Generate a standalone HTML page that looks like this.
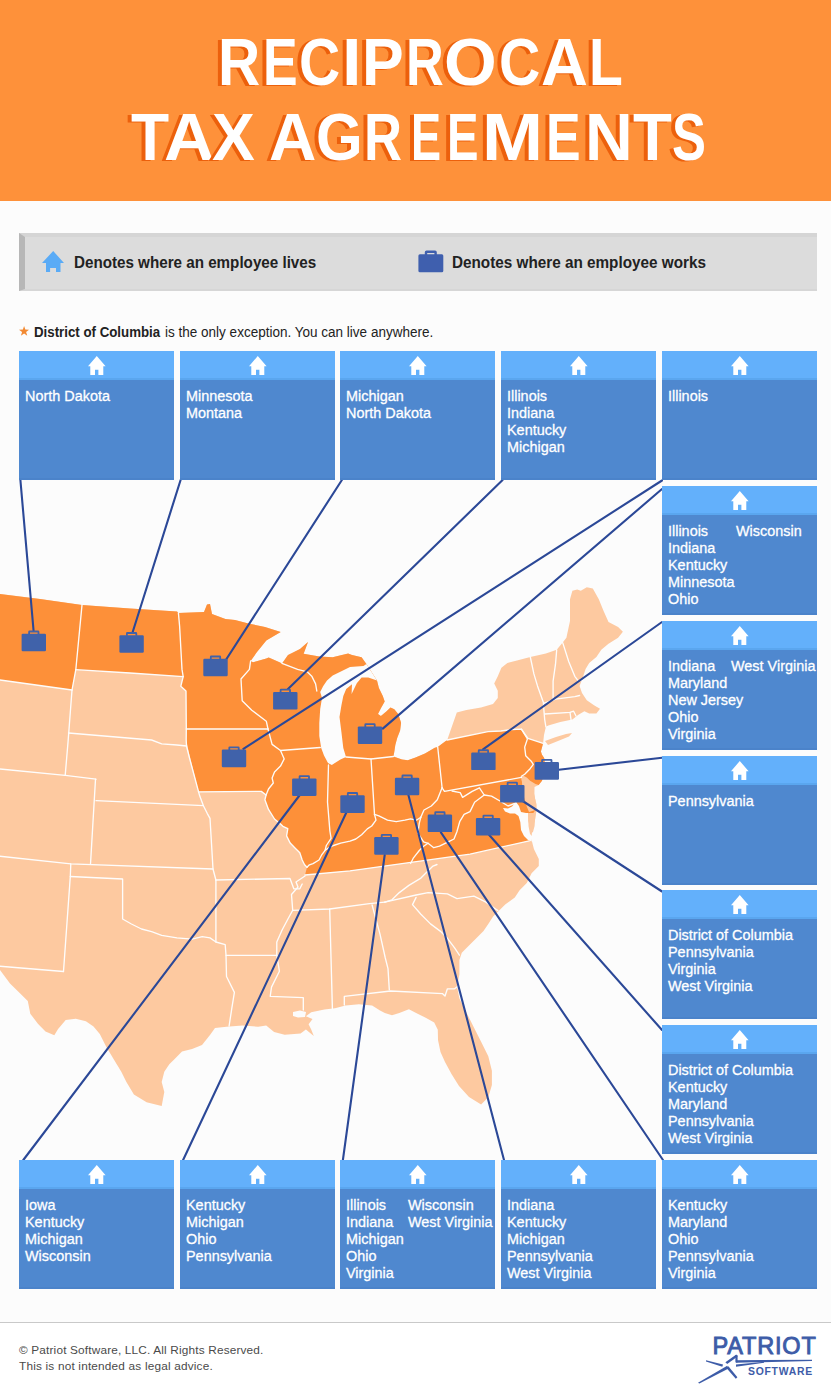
<!DOCTYPE html>
<html><head><meta charset="utf-8"><title>Reciprocal Tax Agreements</title>
<style>
*{margin:0;padding:0;box-sizing:border-box}
html,body{width:831px;height:1397px;overflow:hidden;background:#fcfcfc;font-family:"Liberation Sans",sans-serif;position:relative}
.hdr{position:absolute;left:0;top:0;width:831px;height:201px;background:#fe913a}
.title{position:absolute;color:#fff;font-weight:bold;font-size:67px;line-height:67px;white-space:nowrap;transform-origin:0 0}
.legend{position:absolute;left:19px;top:233px;width:798px;height:58px;background:#dcdcdc;border-left:6px solid #b7b7b7;border-top:4px solid #d5d5d5;border-bottom:2px solid #d6d6d6}
.box{position:absolute;width:155px;height:129px;background:#4f88cf}
.bh{position:absolute;left:0;top:0;width:155px;height:29px;background:#63b0fb;border-bottom:2px solid #5aa6ef}
.bb{position:absolute;left:0;bottom:0;width:155px;height:2px;background:#4b83ca}
.col{position:absolute;color:#fff;font-size:15.5px;line-height:17px;white-space:nowrap;transform:scaleX(0.93);transform-origin:0 0;-webkit-text-stroke:0.3px #fff}
.map{position:absolute;left:0;top:0}
.sep{position:absolute;left:0;top:1322px;width:831px;height:1px;background:#c9c9c9}
</style></head><body>
<div class="hdr"></div>
<div class="title" style="left:218.19px;top:27.78px;transform:scaleX(0.8723);text-shadow:-4.59px 1px 0 #ec600c">R</div><div class="title" style="left:263.33px;top:27.78px;transform:scaleX(0.7742);text-shadow:-5.17px 1px 0 #ec600c">E</div><div class="title" style="left:299.16px;top:27.78px;transform:scaleX(0.8515);text-shadow:-4.70px 1px 0 #ec600c">C</div><div class="title" style="left:341.71px;top:27.78px;transform:scaleX(1.0465);text-shadow:-3.82px 1px 0 #ec600c">I</div><div class="title" style="left:362.42px;top:27.78px;transform:scaleX(0.9336);text-shadow:-4.28px 1px 0 #ec600c">P</div><div class="title" style="left:406.20px;top:27.78px;transform:scaleX(0.7806);text-shadow:-5.12px 1px 0 #ec600c">R</div><div class="title" style="left:444.22px;top:27.78px;transform:scaleX(1.0117);text-shadow:-3.95px 1px 0 #ec600c">O</div><div class="title" style="left:499.15px;top:27.78px;transform:scaleX(0.8538);text-shadow:-4.69px 1px 0 #ec600c">C</div><div class="title" style="left:541.28px;top:27.78px;transform:scaleX(0.9700);text-shadow:-4.12px 1px 0 #ec600c">A</div><div class="title" style="left:588.80px;top:27.78px;transform:scaleX(0.8260);text-shadow:-4.84px 1px 0 #ec600c">L</div><div class="title" style="left:130.60px;top:103.48px;transform:scaleX(0.9302);text-shadow:-4.30px 1px 0 #ec600c">T</div><div class="title" style="left:163.66px;top:103.48px;transform:scaleX(1.0412);text-shadow:-3.84px 1px 0 #ec600c">A</div><div class="title" style="left:211.64px;top:103.48px;transform:scaleX(0.9584);text-shadow:-4.17px 1px 0 #ec600c">X</div><div class="title" style="left:269.27px;top:103.48px;transform:scaleX(0.9789);text-shadow:-4.09px 1px 0 #ec600c">A</div><div class="title" style="left:316.04px;top:103.48px;transform:scaleX(0.8958);text-shadow:-4.47px 1px 0 #ec600c">G</div><div class="title" style="left:364.08px;top:103.48px;transform:scaleX(0.7853);text-shadow:-5.09px 1px 0 #ec600c">R</div><div class="title" style="left:410.58px;top:103.48px;transform:scaleX(0.6731);text-shadow:-5.94px 1px 0 #ec600c">E</div><div class="title" style="left:447.14px;top:103.48px;transform:scaleX(0.7050);text-shadow:-5.67px 1px 0 #ec600c">E</div><div class="title" style="left:482.00px;top:103.48px;transform:scaleX(1.0929);text-shadow:-3.66px 1px 0 #ec600c">M</div><div class="title" style="left:545.73px;top:103.48px;transform:scaleX(0.7742);text-shadow:-5.17px 1px 0 #ec600c">E</div><div class="title" style="left:584.89px;top:103.48px;transform:scaleX(0.9851);text-shadow:-4.06px 1px 0 #ec600c">N</div><div class="title" style="left:632.89px;top:103.48px;transform:scaleX(0.9479);text-shadow:-4.22px 1px 0 #ec600c">T</div><div class="title" style="left:672.23px;top:103.48px;transform:scaleX(0.7598);text-shadow:-5.26px 1px 0 #ec600c">S</div>
<div class="legend"></div>
<svg style="position:absolute;left:42px;top:251px" width="22" height="21" viewBox="0 0 22 21"><path d="M11.2 0 L22 12 L18.5 12 L18.5 21 L14 21 L14 17 L8.1 17 L8.1 21 L4 21 L4 12 L0 12 Z" fill="#5aabf6"/></svg>
<svg style="position:absolute;left:418px;top:249.5px" width="26" height="23" viewBox="0 0 26 23"><rect x="0.4" y="4.3" width="24.9" height="17.9" rx="1.5" fill="#3f5fae"/><path d="M6.8 5 V2.2 Q6.8 0.4 8.6 0.4 H17 Q18.8 0.4 18.8 2.2 V5 H16.4 V2.9 H9.2 V5 Z" fill="#3f5fae"/></svg>
<div style="position:absolute;left:74.2px;top:252.97px;font-size:16.2px;line-height:19.44px;font-weight:bold;color:#222;white-space:nowrap;transform:scaleX(0.938);transform-origin:0 0;">Denotes where an employee lives</div><div style="position:absolute;left:451.8px;top:252.97px;font-size:16.2px;line-height:19.44px;font-weight:bold;color:#222;white-space:nowrap;transform:scaleX(0.944);transform-origin:0 0;">Denotes where an employee works</div>
<svg style="position:absolute;left:18.5px;top:326.4px" width="10.2" height="9.8" viewBox="0 0 10 9.6"><path d="M5 0 L6.2 3.5 L10 3.6 L7 5.9 L8.1 9.6 L5 7.4 L1.9 9.6 L3 5.9 L0 3.6 L3.8 3.5 Z" fill="#f28a33"/></svg>
<div style="position:absolute;left:33.6px;top:323.31px;font-size:15.2px;line-height:18.24px;font-weight:bold;color:#222;white-space:nowrap;transform:scaleX(0.874);transform-origin:0 0;">District of Columbia</div><div style="position:absolute;left:164.5px;top:323.31px;font-size:15.2px;line-height:18.24px;font-weight:normal;color:#222;white-space:nowrap;transform:scaleX(0.89);transform-origin:0 0;"> is the only exception. You can live anywhere.</div>
<svg class="map" width="831" height="1397" viewBox="0 0 831 1397">
<polygon points="0.0,594.0 40.0,599.0 82.0,605.0 130.0,608.5 177.0,611.6 178.4,612.9 204.0,612.0 207.0,604.4 210.0,604.0 212.0,614.0 225.4,618.9 235.0,620.0 249.4,623.7 265.0,627.0 280.7,632.0 266.3,640.5 256.6,652.6 250.6,661.0 253.0,662.2 266.3,658.6 268.7,657.4 279.5,662.2 282.0,663.4 288.0,655.0 300.0,649.0 308.0,642.0 303.6,653.8 319.3,656.4 332.7,657.3 348.1,653.5 352.0,655.0 361.6,657.3 366.4,664.0 377.0,680.4 378.9,688.0 382.8,696.0 384.7,701.6 380.9,708.3 378.0,714.0 380.9,716.0 386.6,711.2 390.5,707.4 394.3,709.3 398.2,714.0 401.1,722.8 400.1,730.5 397.2,738.0 395.3,745.0 394.3,751.7 393.4,756.5 402.0,759.4 407.8,760.3 415.5,757.4 425.0,753.6 434.8,747.8 437.7,747.0 444.4,742.0 447.2,740.0 456.8,712.4 466.5,710.0 481.0,707.6 493.0,704.0 497.8,698.0 497.8,690.7 494.2,683.5 497.8,676.3 501.4,667.8 507.4,663.0 517.0,660.6 530.3,657.0 545.9,653.4 556.7,649.8 562.7,642.6 566.4,637.8 570.0,620.9 570.0,599.3 572.4,590.8 577.2,589.6 580.8,590.8 586.8,587.2 592.8,588.4 598.8,599.3 603.7,611.3 608.5,622.1 618.1,626.9 622.9,631.7 618.1,637.8 608.5,643.8 601.3,649.8 596.4,657.0 589.2,663.0 585.6,669.0 583.2,676.3 579.6,685.9 582.0,693.1 586.8,700.3 594.0,705.2 600.0,708.8 596.4,713.6 589.2,713.6 584.4,711.2 578.4,714.8 572.4,719.6 560.3,722.0 548.3,725.6 545.9,726.8 544.0,735.0 543.1,743.3 540.9,751.4 542.0,754.7 544.2,757.9 545.0,765.0 544.0,773.0 542.0,780.7 538.7,785.0 534.5,787.0 534.4,795.8 536.6,804.5 536.6,809.9 535.0,820.0 532.0,830.0 531.6,840.0 534.0,849.3 538.8,858.9 538.8,866.1 531.6,873.3 526.8,883.0 519.6,890.2 514.8,897.4 505.2,904.6 497.9,911.8 493.1,916.6 488.3,923.9 483.5,931.1 476.3,938.3 469.0,945.5 461.8,952.7 459.4,960.0 459.4,974.4 457.0,986.4 459.4,998.5 466.6,1012.9 473.9,1027.4 481.1,1041.8 488.3,1056.2 491.9,1070.7 491.9,1085.1 488.3,1097.2 481.1,1104.4 469.0,1097.0 459.0,1086.0 451.5,1074.0 445.0,1062.0 440.5,1052.0 438.0,1040.0 437.8,1029.8 434.2,1022.5 425.7,1017.7 416.1,1012.9 408.9,1009.3 399.3,1012.9 392.0,1015.3 384.8,1012.9 380.0,1010.5 372.1,1005.6 358.9,1004.3 345.6,1005.6 335.0,1008.3 324.4,1009.6 311.2,1012.2 305.9,1016.2 312.5,1018.9 308.6,1024.2 311.2,1029.4 313.8,1036.1 305.9,1029.4 300.6,1033.4 284.7,1034.7 274.1,1032.1 266.2,1025.5 258.2,1026.8 242.4,1025.5 226.5,1026.8 215.0,1028.0 210.0,1035.0 202.0,1045.0 192.1,1049.1 182.0,1051.6 174.4,1059.2 169.3,1064.3 164.3,1071.8 161.7,1082.0 164.3,1092.0 161.7,1106.0 146.6,1102.2 133.9,1094.6 126.4,1082.0 121.3,1071.8 113.7,1059.2 106.1,1046.6 99.8,1033.9 93.5,1026.4 85.9,1021.3 75.8,1018.8 65.7,1020.0 58.1,1028.9 54.3,1035.2 45.5,1031.4 37.9,1023.8 30.3,1013.7 27.8,1001.0 20.2,993.5 10.0,983.4 0.0,970.0" fill="#fdc9a0"/>
<polygon points="0.0,594.0 40.0,599.0 82.0,605.0 130.0,608.5 177.0,611.6 178.4,612.9 204.0,612.0 207.0,604.4 210.0,604.0 212.0,614.0 225.4,618.9 235.0,620.0 249.4,623.7 265.0,627.0 280.7,632.0 266.3,640.5 256.6,652.6 250.6,661.0 253.0,662.2 266.3,658.6 268.7,657.4 279.5,662.2 282.0,663.4 288.0,655.0 300.0,649.0 308.0,642.0 303.6,653.8 319.3,656.4 332.7,657.3 348.1,653.5 352.0,655.0 361.6,657.3 366.4,664.0 377.0,680.4 378.9,688.0 382.8,696.0 384.7,701.6 380.9,708.3 378.0,714.0 380.9,716.0 386.6,711.2 390.5,707.4 394.3,709.3 398.2,714.0 401.1,722.8 400.1,730.5 397.2,738.0 395.3,745.0 394.3,751.7 393.4,756.5 402.0,759.4 407.8,760.3 415.5,757.4 425.0,753.6 434.8,747.8 437.7,747.0 444.4,742.0 447.2,740.0 488.0,731.6 501.0,731.0 512.0,729.5 521.4,729.2 527.9,738.4 543.1,743.3 540.9,751.4 542.0,754.7 544.2,757.9 545.0,765.0 544.0,773.0 542.0,780.7 538.7,785.0 535.5,783.9 530.1,780.7 526.8,777.4 522.5,775.2 521.4,778.0 522.5,785.0 523.6,795.8 526.8,806.6 529.0,812.1 535.5,810.0 531.0,816.0 527.0,826.0 528.0,835.0 531.6,840.0 529.2,840.8 470.0,854.2 350.0,870.8 305.0,875.0 307.0,867.2 304.6,864.8 302.2,860.0 299.8,852.7 295.0,847.9 290.2,843.1 286.6,835.9 287.8,828.7 282.9,826.3 280.5,823.9 274.5,819.0 268.5,809.4 264.9,799.8 266.1,795.0 261.3,791.4 198.4,791.8 194.6,775.4 189.5,755.2 186.2,740.0 186.3,729.0 186.0,691.0 180.8,686.3 183.2,676.6 130.0,673.0 75.8,669.7 72.0,690.0 0.0,680.0" fill="#fd9039"/>
<polygon points="521.4,778.0 526.0,780.0 531.0,787.0 534.5,795.0 535.5,801.5 527.0,802.0 524.0,795.0 522.5,785.0" fill="#fdc9a0"/>
<polygon points="528.0,813.0 535.5,813.0 535.0,820.0 534.6,826.0 533.0,832.0 530.0,834.0 528.5,826.0" fill="#fdc9a0"/>
<polygon points="545.0,741.0 556.0,737.0 566.0,734.0 572.0,733.0 569.0,736.5 558.0,741.0 548.0,745.0" fill="#fdc9a0"/>
<g fill="none" stroke="#fff" stroke-width="1.35" stroke-linejoin="round" stroke-linecap="round" opacity="0.97">
<polyline points="0.0,680.0 72.0,690.0"/>
<polyline points="82.0,605.0 75.8,669.7 72.0,690.0"/>
<polyline points="75.8,669.7 130.0,673.0 183.2,676.6"/>
<polyline points="178.4,612.9 179.6,626.0 182.0,669.4 183.2,676.6 180.8,686.3 186.0,691.0 186.3,729.0 186.2,740.0 186.5,746.0"/>
<polyline points="72.0,690.0 68.2,740.0 65.2,775.4"/>
<polyline points="0.0,769.0 65.2,775.4 96.0,779.2"/>
<polyline points="68.5,733.0 151.6,740.0 161.7,743.8 176.9,745.0 186.5,746.0"/>
<polyline points="186.5,746.0 189.5,758.0 194.6,777.0 199.6,795.6 203.4,805.7 207.2,813.3 210.0,818.3 213.0,869.0 215.9,880.0"/>
<polyline points="95.5,779.2 90.5,864.0"/>
<polyline points="96.0,800.7 203.4,805.7"/>
<polyline points="0.0,856.2 70.8,863.8 213.0,869.0"/>
<polyline points="70.8,863.8 70.3,876.5 63.5,971.5"/>
<polyline points="70.3,876.5 122.6,879.0 122.6,919.0 131.4,924.0 141.5,929.0 151.6,931.6 161.7,935.4 176.9,937.9 192.1,939.2 202.2,936.6 210.0,937.9 215.9,942.0"/>
<polyline points="0.0,966.2 63.5,971.5"/>
<polyline points="215.9,880.0 215.9,942.0 225.2,944.7 226.0,955.0 226.5,976.5 234.4,992.4 231.8,1008.3 229.1,1026.0"/>
<polyline points="226.0,955.3 276.8,955.3"/>
<polyline points="215.9,880.0 290.0,878.5 293.8,888.8 299.8,888.8 302.2,884.0"/>
<polyline points="305.0,876.0 296.0,882.0 298.0,887.0 291.5,894.5 292.7,910.3 287.4,920.0 282.1,930.0 276.8,942.1 276.8,955.3 279.4,971.2 271.5,987.1 270.2,996.4 303.3,997.7 303.3,1010.0"/>
<polyline points="292.7,910.3 329.7,909.0 369.4,903.7 384.8,902.2"/>
<polyline points="329.7,909.0 332.4,1009.0"/>
<polyline points="372.1,905.0 380.0,934.1 385.3,958.0 388.0,968.6 389.3,989.7"/>
<polyline points="344.3,1005.0 344.3,996.4 390.6,991.0 442.6,993.7 445.0,996.1 447.4,988.8 454.6,988.8 457.5,986.4"/>
<polyline points="384.8,902.2 392.0,899.8 399.3,892.6 408.9,885.4 420.9,878.1 433.0,866.1 437.0,864.5"/>
<polyline points="384.8,902.2 416.1,895.0 428.1,892.6 447.4,893.8 457.0,898.6 473.9,896.2 485.9,902.2 497.9,910.6"/>
<polyline points="416.1,897.4 412.5,904.6 420.9,914.2 430.5,923.9 440.2,931.1 447.4,938.3 454.6,947.9 459.4,955.2"/>
<polyline points="305.0,875.0 350.0,870.8 470.0,854.2 529.2,840.8"/>
<polyline points="198.4,791.8 261.3,791.4 266.1,795.0"/>
<polyline points="186.3,729.0 268.0,729.0"/>
<polyline points="250.6,661.0 249.4,669.4 241.0,679.0 242.2,700.7 251.8,710.3 266.3,721.2 268.0,729.0"/>
<polyline points="268.0,729.0 272.1,744.4 280.5,750.5 284.2,758.9 280.5,766.1 274.5,772.1 272.1,778.1 273.3,783.0 268.5,789.0 266.1,795.0 264.9,799.8 268.5,809.4 274.5,819.0 280.5,823.9 282.9,826.3 287.8,828.7 286.6,835.9 290.2,843.1 295.0,847.9 299.8,852.7 302.2,860.0 304.6,864.8 307.0,867.2"/>
<polyline points="280.5,750.5 320.3,747.5"/>
<polyline points="282.0,663.4 297.6,669.4 307.2,671.8 312.0,676.6 315.6,683.9 316.8,691.0"/>
<polyline points="328.5,765.0 327.5,802.0 329.9,831.0 331.1,838.3 326.3,845.5 325.1,850.3 321.5,855.2 319.0,860.0 313.0,863.6 309.4,864.8 307.0,867.2"/>
<polyline points="325.1,850.3 328.7,847.9 333.5,845.5 340.7,843.1 350.0,841.2 355.8,839.0 361.6,834.7 367.3,828.9 371.7,826.0 376.0,820.2 374.5,814.4"/>
<polyline points="346.0,757.0 371.0,759.0 393.4,756.5"/>
<polyline points="371.0,759.0 374.5,814.4"/>
<polyline points="374.5,814.4 378.9,815.9 387.5,820.2 396.2,821.7 404.9,820.2 410.6,818.8 416.4,820.2 420.8,817.3"/>
<polyline points="442.1,787.8 437.3,799.8 431.3,806.0 424.0,810.0 420.8,817.3"/>
<polyline points="437.7,747.0 442.1,787.8"/>
<polyline points="442.1,787.8 444.5,791.4 521.4,777.4"/>
<polyline points="420.8,817.3 419.3,823.1 417.9,833.2 423.6,841.9 428.0,843.3"/>
<polyline points="428.0,843.3 423.6,846.2 419.3,850.5 413.5,857.8 410.6,863.5"/>
<polyline points="428.0,843.3 433.8,847.7 439.5,846.2 448.2,841.9 454.0,839.0 456.9,831.8 459.7,821.7 464.1,814.4 470.0,811.6 474.6,802.2 484.2,795.0 479.4,787.8 472.2,791.4 462.6,797.4 460.2,792.6 452.0,791.0"/>
<polyline points="484.2,795.0 491.5,796.2 500.0,801.0 508.0,806.0 516.0,803.0"/>
<polyline points="521.4,729.2 527.4,739.0 524.7,747.1 525.7,755.7 531.2,761.2 533.3,764.4 530.1,768.7 524.7,774.2 521.4,776.3"/>
<polyline points="447.2,740.0 488.0,731.6 501.0,731.0 512.0,729.5 521.4,729.2 527.9,738.4 543.1,743.3"/>
<polyline points="530.3,657.0 533.9,673.9 537.5,685.9 543.5,702.7 543.5,705.2 544.7,719.6 545.9,726.8"/>
<polyline points="556.7,649.8 555.5,664.2 553.1,681.1 553.1,700.3"/>
<polyline points="562.7,642.6 568.8,661.8 574.8,676.3 578.4,681.1 583.0,680.0"/>
<polyline points="543.5,703.5 555.5,699.1 574.8,696.7 579.6,695.5"/>
<polyline points="544.7,714.0 570.0,712.4 573.6,711.2 576.0,716.0"/>
<polyline points="570.0,712.4 571.2,721.0"/>
</g>
<polygon points="366.4,664.0 363.5,666.0 350.0,667.0 342.4,670.8 332.7,675.6 327.0,680.4 323.1,686.2 320.2,692.0 322.0,698.0 320.2,709.0 319.3,723.0 319.3,736.0 321.2,748.0 324.0,755.5 328.0,763.0 331.8,765.0 340.4,759.4 346.0,757.0 343.3,748.0 341.4,732.0 339.5,717.0 341.4,705.5 343.3,696.0 346.2,689.0 352.0,684.3 351.6,694.0 356.8,683.3 361.6,677.5 368.3,677.5 377.0,680.4" fill="#fcfcfc"/>
<polygon points="516.0,802.0 519.0,806.0 521.0,812.0 526.0,813.0 528.0,813.0 528.5,826.0 530.0,834.0 532.5,836.5 531.5,841.6 528.0,840.0 524.0,836.0 521.0,830.0 520.3,822.0 518.5,816.0 515.0,813.5 510.0,813.5 505.0,811.5 503.0,808.0 508.0,808.5 512.0,806.5" fill="#fcfcfc"/>
<polygon points="293.0,1012.0 300.0,1010.5 306.0,1012.0 305.0,1017.0 298.0,1017.5 293.0,1016.0" fill="#fcfcfc"/>
<g stroke="#2b4897" stroke-width="2.1" stroke-linecap="round">
<line x1="20.4" y1="480" x2="33.6" y2="631"/>
<line x1="180.6" y1="480" x2="132.7" y2="632"/>
<line x1="341.9" y1="480" x2="226" y2="659.8"/>
<line x1="502.6" y1="480" x2="288" y2="689"/>
<line x1="662" y1="480.5" x2="243.4" y2="748.8"/>
<line x1="662" y1="489" x2="382.8" y2="728.6"/>
<line x1="662" y1="622" x2="483" y2="749.3"/>
<line x1="662" y1="757.7" x2="558.8" y2="769.7"/>
<line x1="662" y1="891.5" x2="522.7" y2="801"/>
<line x1="662" y1="1030" x2="489" y2="834.7"/>
<line x1="23.3" y1="1160" x2="299.8" y2="795"/>
<line x1="183.1" y1="1160" x2="346.7" y2="811.8"/>
<line x1="342.9" y1="1160" x2="384.7" y2="855"/>
<line x1="504" y1="1160" x2="408.4" y2="795"/>
<line x1="663" y1="1160" x2="440.9" y2="832.3"/>
</g>
<rect x="21.6" y="633.7" width="24.4" height="17.6" rx="1.2" fill="#4062aa"/><path d="M28.2 634.3 V631.9 Q28.2 630.5 29.6 630.5 H38.0 Q39.4 630.5 39.4 631.9 V634.3 H37.6 V632.4 H30.0 V634.3 Z" fill="#4062aa"/>
<rect x="119.4" y="635.2" width="24.4" height="17.6" rx="1.2" fill="#4062aa"/><path d="M126.0 635.8 V633.4 Q126.0 632.0 127.4 632.0 H135.8 Q137.2 632.0 137.2 633.4 V635.8 H135.4 V633.9 H127.8 V635.8 Z" fill="#4062aa"/>
<rect x="203.3" y="658.7" width="24.4" height="17.6" rx="1.2" fill="#4062aa"/><path d="M209.9 659.3 V656.9 Q209.9 655.5 211.3 655.5 H219.7 Q221.1 655.5 221.1 656.9 V659.3 H219.3 V657.4 H211.7 V659.3 Z" fill="#4062aa"/>
<rect x="273.1" y="691.9" width="24.4" height="17.6" rx="1.2" fill="#4062aa"/><path d="M279.7 692.5 V690.1 Q279.7 688.7 281.1 688.7 H289.5 Q290.9 688.7 290.9 690.1 V692.5 H289.1 V690.6 H281.5 V692.5 Z" fill="#4062aa"/>
<rect x="221.8" y="749.6" width="24.4" height="17.6" rx="1.2" fill="#4062aa"/><path d="M228.4 750.2 V747.8 Q228.4 746.4 229.8 746.4 H238.2 Q239.6 746.4 239.6 747.8 V750.2 H237.8 V748.3 H230.2 V750.2 Z" fill="#4062aa"/>
<rect x="357.8" y="726.4" width="24.4" height="17.6" rx="1.2" fill="#4062aa"/><path d="M364.4 727.0 V724.6 Q364.4 723.2 365.8 723.2 H374.2 Q375.6 723.2 375.6 724.6 V727.0 H373.8 V725.1 H366.2 V727.0 Z" fill="#4062aa"/>
<rect x="292.1" y="778.4" width="24.4" height="17.6" rx="1.2" fill="#4062aa"/><path d="M298.7 779.0 V776.6 Q298.7 775.2 300.1 775.2 H308.5 Q309.9 775.2 309.9 776.6 V779.0 H308.1 V777.1 H300.5 V779.0 Z" fill="#4062aa"/>
<rect x="340.3" y="795.3" width="24.4" height="17.6" rx="1.2" fill="#4062aa"/><path d="M346.9 795.9 V793.5 Q346.9 792.1 348.3 792.1 H356.7 Q358.1 792.1 358.1 793.5 V795.9 H356.3 V794.0 H348.7 V795.9 Z" fill="#4062aa"/>
<rect x="394.9" y="777.7" width="24.4" height="17.6" rx="1.2" fill="#4062aa"/><path d="M401.5 778.3 V775.9 Q401.5 774.5 402.9 774.5 H411.3 Q412.7 774.5 412.7 775.9 V778.3 H410.9 V776.4 H403.3 V778.3 Z" fill="#4062aa"/>
<rect x="374.2" y="837.1" width="24.4" height="17.6" rx="1.2" fill="#4062aa"/><path d="M380.8 837.7 V835.3 Q380.8 833.9 382.2 833.9 H390.6 Q392.0 833.9 392.0 835.3 V837.7 H390.2 V835.8 H382.6 V837.7 Z" fill="#4062aa"/>
<rect x="427.7" y="814.5" width="24.4" height="17.6" rx="1.2" fill="#4062aa"/><path d="M434.3 815.1 V812.7 Q434.3 811.3 435.7 811.3 H444.1 Q445.5 811.3 445.5 812.7 V815.1 H443.7 V813.2 H436.1 V815.1 Z" fill="#4062aa"/>
<rect x="475.9" y="817.9" width="24.4" height="17.6" rx="1.2" fill="#4062aa"/><path d="M482.5 818.5 V816.1 Q482.5 814.7 483.9 814.7 H492.3 Q493.7 814.7 493.7 816.1 V818.5 H491.9 V816.6 H484.3 V818.5 Z" fill="#4062aa"/>
<rect x="500.1" y="784.9" width="24.4" height="17.6" rx="1.2" fill="#4062aa"/><path d="M506.7 785.5 V783.1 Q506.7 781.7 508.1 781.7 H516.5 Q517.9 781.7 517.9 783.1 V785.5 H516.1 V783.6 H508.5 V785.5 Z" fill="#4062aa"/>
<rect x="471.2" y="752.5" width="24.4" height="17.6" rx="1.2" fill="#4062aa"/><path d="M477.8 753.1 V750.7 Q477.8 749.3 479.2 749.3 H487.6 Q489.0 749.3 489.0 750.7 V753.1 H487.2 V751.2 H479.6 V753.1 Z" fill="#4062aa"/>
<rect x="534.6" y="762.1" width="24.4" height="17.6" rx="1.2" fill="#4062aa"/><path d="M541.2 762.7 V760.3 Q541.2 758.9 542.6 758.9 H551.0 Q552.4 758.9 552.4 760.3 V762.7 H550.6 V760.8 H543.0 V762.7 Z" fill="#4062aa"/>
</svg>
<div class="box" style="left:19px;top:351px"><div class="bh"><svg style="position:absolute;left:69px;top:4.8px" width="17.6" height="19.3" viewBox="0 0 17.6 19.3"><path d="M8.8 0 L17.6 10.2 L15.3 10.2 L15.3 19.3 L10.4 19.3 L10.4 13.7 L7.0 13.7 L7.0 19.3 L2.3 19.3 L2.3 10.2 L0 10.2 Z" fill="#fff"/></svg></div><div class="bb"></div><div class="col" style="left:6.2px;top:35.93px">North Dakota</div></div>
<div class="box" style="left:180px;top:351px"><div class="bh"><svg style="position:absolute;left:69px;top:4.8px" width="17.6" height="19.3" viewBox="0 0 17.6 19.3"><path d="M8.8 0 L17.6 10.2 L15.3 10.2 L15.3 19.3 L10.4 19.3 L10.4 13.7 L7.0 13.7 L7.0 19.3 L2.3 19.3 L2.3 10.2 L0 10.2 Z" fill="#fff"/></svg></div><div class="bb"></div><div class="col" style="left:6.2px;top:35.93px">Minnesota<br>Montana</div></div>
<div class="box" style="left:340px;top:351px"><div class="bh"><svg style="position:absolute;left:69px;top:4.8px" width="17.6" height="19.3" viewBox="0 0 17.6 19.3"><path d="M8.8 0 L17.6 10.2 L15.3 10.2 L15.3 19.3 L10.4 19.3 L10.4 13.7 L7.0 13.7 L7.0 19.3 L2.3 19.3 L2.3 10.2 L0 10.2 Z" fill="#fff"/></svg></div><div class="bb"></div><div class="col" style="left:6.2px;top:35.93px">Michigan<br>North Dakota</div></div>
<div class="box" style="left:501px;top:351px"><div class="bh"><svg style="position:absolute;left:69px;top:4.8px" width="17.6" height="19.3" viewBox="0 0 17.6 19.3"><path d="M8.8 0 L17.6 10.2 L15.3 10.2 L15.3 19.3 L10.4 19.3 L10.4 13.7 L7.0 13.7 L7.0 19.3 L2.3 19.3 L2.3 10.2 L0 10.2 Z" fill="#fff"/></svg></div><div class="bb"></div><div class="col" style="left:6.2px;top:35.93px">Illinois<br>Indiana<br>Kentucky<br>Michigan</div></div>
<div class="box" style="left:662px;top:351px"><div class="bh"><svg style="position:absolute;left:69px;top:4.8px" width="17.6" height="19.3" viewBox="0 0 17.6 19.3"><path d="M8.8 0 L17.6 10.2 L15.3 10.2 L15.3 19.3 L10.4 19.3 L10.4 13.7 L7.0 13.7 L7.0 19.3 L2.3 19.3 L2.3 10.2 L0 10.2 Z" fill="#fff"/></svg></div><div class="bb"></div><div class="col" style="left:6.2px;top:35.93px">Illinois</div></div>
<div class="box" style="left:662px;top:486px"><div class="bh"><svg style="position:absolute;left:69px;top:4.8px" width="17.6" height="19.3" viewBox="0 0 17.6 19.3"><path d="M8.8 0 L17.6 10.2 L15.3 10.2 L15.3 19.3 L10.4 19.3 L10.4 13.7 L7.0 13.7 L7.0 19.3 L2.3 19.3 L2.3 10.2 L0 10.2 Z" fill="#fff"/></svg></div><div class="bb"></div><div class="col" style="left:6.2px;top:35.93px">Illinois<br>Indiana<br>Kentucky<br>Minnesota<br>Ohio</div><div class="col" style="left:74px;top:35.93px">Wisconsin</div></div>
<div class="box" style="left:662px;top:621px"><div class="bh"><svg style="position:absolute;left:69px;top:4.8px" width="17.6" height="19.3" viewBox="0 0 17.6 19.3"><path d="M8.8 0 L17.6 10.2 L15.3 10.2 L15.3 19.3 L10.4 19.3 L10.4 13.7 L7.0 13.7 L7.0 19.3 L2.3 19.3 L2.3 10.2 L0 10.2 Z" fill="#fff"/></svg></div><div class="bb"></div><div class="col" style="left:6.2px;top:35.93px">Indiana<br>Maryland<br>New Jersey<br>Ohio<br>Virginia</div><div class="col" style="left:69px;top:35.93px">West Virginia</div></div>
<div class="box" style="left:662px;top:756px"><div class="bh"><svg style="position:absolute;left:69px;top:4.8px" width="17.6" height="19.3" viewBox="0 0 17.6 19.3"><path d="M8.8 0 L17.6 10.2 L15.3 10.2 L15.3 19.3 L10.4 19.3 L10.4 13.7 L7.0 13.7 L7.0 19.3 L2.3 19.3 L2.3 10.2 L0 10.2 Z" fill="#fff"/></svg></div><div class="bb"></div><div class="col" style="left:6.2px;top:35.93px">Pennsylvania</div></div>
<div class="box" style="left:662px;top:890px"><div class="bh"><svg style="position:absolute;left:69px;top:4.8px" width="17.6" height="19.3" viewBox="0 0 17.6 19.3"><path d="M8.8 0 L17.6 10.2 L15.3 10.2 L15.3 19.3 L10.4 19.3 L10.4 13.7 L7.0 13.7 L7.0 19.3 L2.3 19.3 L2.3 10.2 L0 10.2 Z" fill="#fff"/></svg></div><div class="bb"></div><div class="col" style="left:6.2px;top:35.93px">District of Columbia<br>Pennsylvania<br>Virginia<br>West Virginia</div></div>
<div class="box" style="left:662px;top:1025px"><div class="bh"><svg style="position:absolute;left:69px;top:4.8px" width="17.6" height="19.3" viewBox="0 0 17.6 19.3"><path d="M8.8 0 L17.6 10.2 L15.3 10.2 L15.3 19.3 L10.4 19.3 L10.4 13.7 L7.0 13.7 L7.0 19.3 L2.3 19.3 L2.3 10.2 L0 10.2 Z" fill="#fff"/></svg></div><div class="bb"></div><div class="col" style="left:6.2px;top:35.93px">District of Columbia<br>Kentucky<br>Maryland<br>Pennsylvania<br>West Virginia</div></div>
<div class="box" style="left:19px;top:1160px"><div class="bh"><svg style="position:absolute;left:69px;top:4.8px" width="17.6" height="19.3" viewBox="0 0 17.6 19.3"><path d="M8.8 0 L17.6 10.2 L15.3 10.2 L15.3 19.3 L10.4 19.3 L10.4 13.7 L7.0 13.7 L7.0 19.3 L2.3 19.3 L2.3 10.2 L0 10.2 Z" fill="#fff"/></svg></div><div class="bb"></div><div class="col" style="left:6.2px;top:35.93px">Iowa<br>Kentucky<br>Michigan<br>Wisconsin</div></div>
<div class="box" style="left:180px;top:1160px"><div class="bh"><svg style="position:absolute;left:69px;top:4.8px" width="17.6" height="19.3" viewBox="0 0 17.6 19.3"><path d="M8.8 0 L17.6 10.2 L15.3 10.2 L15.3 19.3 L10.4 19.3 L10.4 13.7 L7.0 13.7 L7.0 19.3 L2.3 19.3 L2.3 10.2 L0 10.2 Z" fill="#fff"/></svg></div><div class="bb"></div><div class="col" style="left:6.2px;top:35.93px">Kentucky<br>Michigan<br>Ohio<br>Pennsylvania</div></div>
<div class="box" style="left:340px;top:1160px"><div class="bh"><svg style="position:absolute;left:69px;top:4.8px" width="17.6" height="19.3" viewBox="0 0 17.6 19.3"><path d="M8.8 0 L17.6 10.2 L15.3 10.2 L15.3 19.3 L10.4 19.3 L10.4 13.7 L7.0 13.7 L7.0 19.3 L2.3 19.3 L2.3 10.2 L0 10.2 Z" fill="#fff"/></svg></div><div class="bb"></div><div class="col" style="left:6.2px;top:35.93px">Illinois<br>Indiana<br>Michigan<br>Ohio<br>Virginia</div><div class="col" style="left:68px;top:35.93px">Wisconsin<br>West Virginia</div></div>
<div class="box" style="left:501px;top:1160px"><div class="bh"><svg style="position:absolute;left:69px;top:4.8px" width="17.6" height="19.3" viewBox="0 0 17.6 19.3"><path d="M8.8 0 L17.6 10.2 L15.3 10.2 L15.3 19.3 L10.4 19.3 L10.4 13.7 L7.0 13.7 L7.0 19.3 L2.3 19.3 L2.3 10.2 L0 10.2 Z" fill="#fff"/></svg></div><div class="bb"></div><div class="col" style="left:6.2px;top:35.93px">Indiana<br>Kentucky<br>Michigan<br>Pennsylvania<br>West Virginia</div></div>
<div class="box" style="left:662px;top:1160px"><div class="bh"><svg style="position:absolute;left:69px;top:4.8px" width="17.6" height="19.3" viewBox="0 0 17.6 19.3"><path d="M8.8 0 L17.6 10.2 L15.3 10.2 L15.3 19.3 L10.4 19.3 L10.4 13.7 L7.0 13.7 L7.0 19.3 L2.3 19.3 L2.3 10.2 L0 10.2 Z" fill="#fff"/></svg></div><div class="bb"></div><div class="col" style="left:6.2px;top:35.93px">Kentucky<br>Maryland<br>Ohio<br>Pennsylvania<br>Virginia</div></div>
<div style="position:absolute;left:0;top:1323px;width:831px;height:74px;background:#fff"></div><div class="sep"></div>
<div style="position:absolute;left:19px;top:1343.33px;font-size:11.8px;line-height:14.16px;font-weight:normal;color:#4a4a4a;white-space:nowrap;transform:scaleX(1.0);transform-origin:0 0;letter-spacing:0.17px">© Patriot Software, LLC. All Rights Reserved.</div><div style="position:absolute;left:19px;top:1358.93px;font-size:11.8px;line-height:14.16px;font-weight:normal;color:#4a4a4a;white-space:nowrap;transform:scaleX(1.0);transform-origin:0 0;letter-spacing:0.19px">This is not intended as legal advice.</div>
<div style="position:absolute;left:712.6px;top:1331.66px;font-size:23.5px;line-height:28.2px;font-weight:normal;color:#3d5ca8;white-space:nowrap;transform:scaleX(1.0);transform-origin:0 0;letter-spacing:0.8px;-webkit-text-stroke:0.9px #3d5ca8">PATRIOT</div><div style="position:absolute;left:748.0px;top:1365.96px;font-size:10.4px;line-height:12.48px;font-weight:bold;color:#3d5ca8;white-space:nowrap;transform:scaleX(1.0);transform-origin:0 0;letter-spacing:0.75px">SOFTWARE</div><svg style="position:absolute;left:0;top:0" width="831" height="1397"><g fill="#3d5ca8"><polygon points="706,1360.2 723,1364.4 722.3,1366.8 706,1361.4"/><polygon points="698,1382.8 727.2,1365.8 728.6,1368.6 699.4,1383.4"/><polygon points="726.2,1367.8 728.4,1366.2 737.4,1377.2 735.8,1378.8"/><polygon points="725.4,1362.2 736.3,1354.6 737.6,1356.6 727.2,1364"/><polygon points="735.4,1355.2 737.6,1355.2 737.6,1362.4 735.4,1362.4"/><polygon points="736,1360.2 812,1359.8 812,1360.9 736,1362.8"/><polygon points="736,1364.4 764,1361.8 764,1362.8 736,1366.8"/></g></svg>
</body></html>
